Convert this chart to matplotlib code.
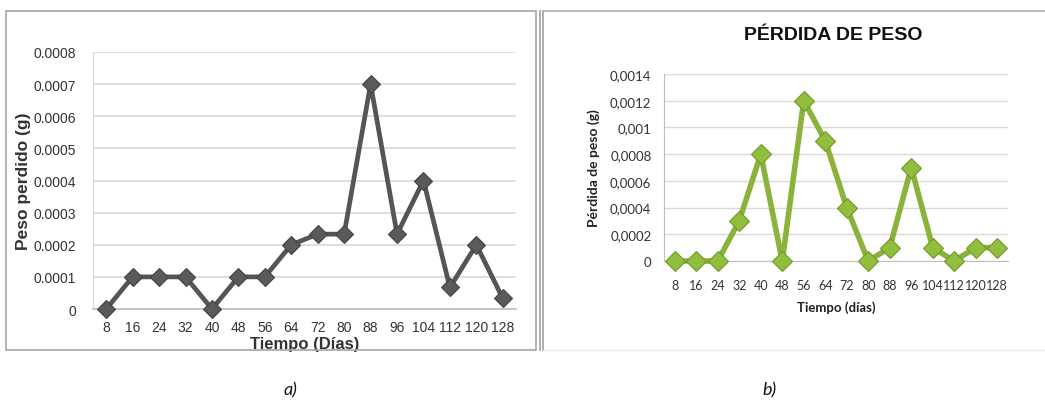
import matplotlib
matplotlib.use("Agg")
import matplotlib.pyplot as plt
from matplotlib.patches import Rectangle
from matplotlib.lines import Line2D

# ---- data ----
days = ["8", "16", "24", "32", "40", "48", "56", "64", "72", "80",
        "88", "96", "104", "112", "120", "128"]
peso_a = [0, 0.0001, 0.0001, 0.0001, 0, 0.0001, 0.0001, 0.0002, 0.000233,
          0.000233, 0.0007, 0.000233, 0.0004, 0.000067, 0.0002, 0.000033]
peso_b = [0, 0, 0, 0.0003, 0.0008, 0, 0.0012, 0.0009, 0.0004, 0, 0.0001,
          0.0007, 0.0001, 0, 0.0001, 0.0001]
yticks_a = [0, 0.0001, 0.0002, 0.0003, 0.0004, 0.0005, 0.0006, 0.0007, 0.0008]
yticklabels_a = ["0", "0.0001", "0.0002", "0.0003", "0.0004", "0.0005",
                 "0.0006", "0.0007", "0.0008"]
yticks_b = [0, 0.0002, 0.0004, 0.0006, 0.0008, 0.001, 0.0012, 0.0014]
yticklabels_b = ["0", "0,0002", "0,0004", "0,0006", "0,0008", "0,001",
                 "0,0012", "0,0014"]

W, H = 1045, 402
fig = plt.figure(figsize=(W / 100, H / 100), dpi=100)
fig.patch.set_facecolor("white")

def fx(px):
    return px / W

def fy(py):
    return 1 - py / H

# frames
fig.add_artist(Rectangle((fx(6), fy(351)), fx(530), (351 - 12) / H,
                         transform=fig.transFigure, fill=False,
                         edgecolor="#a6a6a6", lw=1.2))
fig.add_artist(Line2D([fx(540), fx(540)], [fy(12), fy(351)],
                      transform=fig.transFigure, color="#a0a0a0", lw=1.2))
fig.add_artist(Line2D([fx(543), fx(543)], [fy(12), fy(351)],
                      transform=fig.transFigure, color="#a0a0a0", lw=1.2))
fig.add_artist(Line2D([fx(543), fx(1045)], [fy(12), fy(12)],
                      transform=fig.transFigure, color="#b0b0b0", lw=1.2))
fig.add_artist(Line2D([fx(543), fx(1045)], [fy(351), fy(351)],
                      transform=fig.transFigure, color="#ececec", lw=1.0))

x = list(range(len(days)))

# ---- panel a ----
axa = fig.add_axes([fx(93), fy(310), fx(516 - 93), (310 - 53) / H])
axa.plot(x, peso_a, color="#555555", lw=3.4, marker="D", markersize=9.5,
         markerfacecolor="#5a5a5a", markeredgecolor="#444444",
         markeredgewidth=0.8, zorder=3, clip_on=False)
axa.set_xlim(-0.5, len(days) - 0.5)
axa.set_ylim(0, 0.0008)
axa.set_yticks(yticks_a)
axa.set_yticklabels(yticklabels_a, fontfamily="Liberation Sans", fontsize=10,
                    color="#333333")
axa.set_xticks(x)
axa.set_xticklabels(days, fontfamily="Liberation Sans", fontsize=10,
                    color="#333333")
axa.tick_params(axis="x", length=0, pad=8)
axa.tick_params(axis="y", length=0, pad=12)
axa.grid(axis="y", color="#d9d9d9", lw=1.2)
axa.set_axisbelow(True)
for s in ["top", "right"]:
    axa.spines[s].set_visible(False)
axa.spines["left"].set_color("#d9d9d9")
axa.spines["bottom"].set_color("#bfbfbf")
axa.spines["bottom"].set_linewidth(1.2)
axa.set_ylabel("Peso perdido (g)", fontfamily="Liberation Sans",
               fontweight="bold", fontsize=12.5, color="#333333", labelpad=2)
axa.set_xlabel("Tiempo (Días)", fontfamily="Liberation Sans",
               fontweight="bold", fontsize=12, color="#333333", labelpad=1)

# ---- panel b ----
green = "#8bb23a"
axb = fig.add_axes([fx(664), fy(262), fx(1008 - 664), (262 - 75) / H])
axb.plot(x, peso_b, color=green, lw=4.0, marker="D", markersize=10.5,
         markerfacecolor="#92be3e", markeredgecolor="#6f9a2a",
         markeredgewidth=0.8, zorder=3, clip_on=False)
axb.set_xlim(-0.5, len(days) - 0.5)
axb.set_ylim(0, 0.0014)
axb.set_yticks(yticks_b)
axb.set_yticklabels(yticklabels_b, fontfamily="Lato", fontsize=9.5,
                    color="#333333")
axb.set_xticks(x)
axb.set_xticklabels(days, fontfamily="Lato", fontsize=9, color="#333333")
axb.tick_params(axis="x", length=0, pad=13)
axb.tick_params(axis="y", length=0, pad=9)
axb.grid(axis="y", color="#d9d9d9", lw=1.0)
axb.set_axisbelow(True)
for s in ["top", "right"]:
    axb.spines[s].set_visible(False)
axb.spines["left"].set_color("#bfbfbf")
axb.spines["bottom"].set_color("#bfbfbf")
axb.set_ylabel("Pérdida de peso (g)", fontfamily="Lato", fontweight="bold",
               fontsize=10, color="#222222", labelpad=7)
axb.set_xlabel("Tiempo (días)", fontfamily="Lato", fontweight="bold",
               fontsize=9.5, color="#222222", labelpad=7)
fig.text(fx(833), fy(35), "PÉRDIDA DE PESO", fontfamily="Liberation Sans",
         fontweight="bold", fontsize=14, color="#111111",
         ha="center", va="center")

# captions
fig.text(fx(290), fy(390), "a)", fontfamily="Lato", fontstyle="italic",
         fontsize=13, ha="center", va="center", color="#111111")
fig.text(fx(770), fy(390), "b)", fontfamily="Lato", fontstyle="italic",
         fontsize=13, ha="center", va="center", color="#111111")

fig.savefig("out.png", dpi=100, facecolor="white")
